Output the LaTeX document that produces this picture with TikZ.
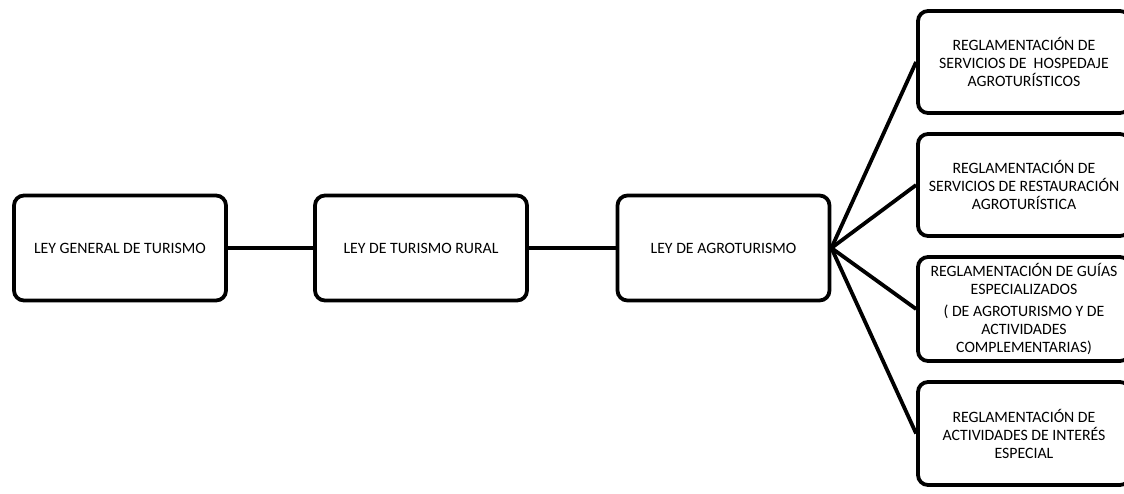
\documentclass[tikz,border=0pt]{standalone}
\usepackage{fontspec}
\setmainfont{Carlito}

\begin{document}
\begin{tikzpicture}[x=1pt,y=-1pt]
\tikzset{
  leybox/.style={draw,line width=3.8pt,rounded corners=10pt,minimum width=212pt,minimum height=105pt,inner sep=0pt,font=\fontsize{15.8}{18}\selectfont},
  reglabox/.style={leybox,text width=212pt,align=flush center},
  link/.style={line width=3.8pt}
}
\useasboundingbox (0,0) rectangle (1124,493);
\node[leybox] (n_general) at (120,248) {LEY GENERAL DE TURISMO};
\node[leybox] (n_rural) at (421,248) {LEY DE TURISMO RURAL};
\node[leybox] (n_agro) at (723.5,248) {LEY DE AGROTURISMO};
\node[reglabox,minimum height=102pt] (n_hosp) at (1024,62) {REGLAMENTACIÓN DE\\SERVICIOS DE \ HOSPEDAJE\\AGROTURÍSTICOS};
\node[reglabox,minimum height=102pt] (n_rest) at (1024,185) {REGLAMENTACIÓN DE\\SERVICIOS DE RESTAURACIÓN\\AGROTURÍSTICA};
\node[reglabox,minimum height=104pt] (n_guias) at (1024,309) {REGLAMENTACIÓN DE GUÍAS\\ESPECIALIZADOS\\[4pt]( DE AGROTURISMO Y DE\\ACTIVIDADES\\COMPLEMENTARIAS)};
\node[reglabox,minimum height=103pt] (n_inter) at (1024,433.5) {REGLAMENTACIÓN DE\\ACTIVIDADES DE INTERÉS\\ESPECIAL};
\draw[link] (n_general) -- (n_rural);
\draw[link] (n_rural) -- (n_agro);
\draw[link] (n_agro.east) -- (n_hosp.west);
\draw[link] (n_agro.east) -- (n_rest.west);
\draw[link] (n_agro.east) -- (n_guias.west);
\draw[link] (n_agro.east) -- (n_inter.west);
\end{tikzpicture}
\end{document}
